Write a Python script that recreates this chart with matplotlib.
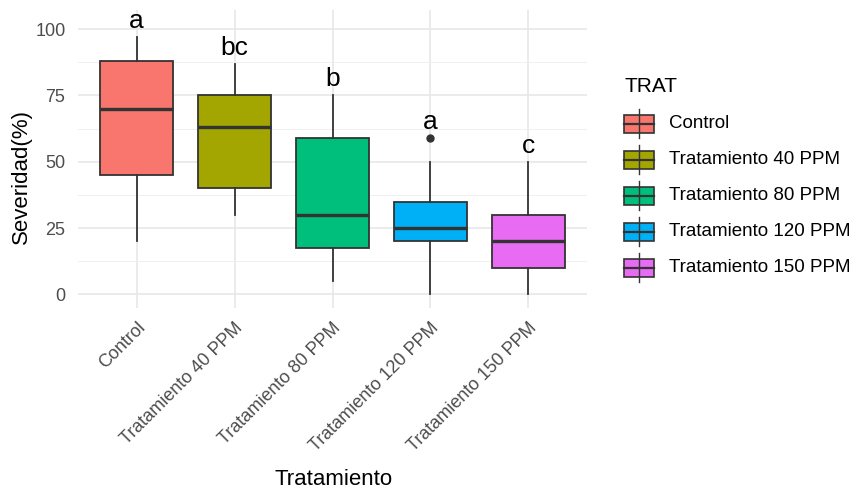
import matplotlib.pyplot as plt
from matplotlib.patches import Rectangle

plt.rcParams['font.family'] = ['Liberation Sans', 'DejaVu Sans']

# data (Severidad %)
groups = ['Control', 'Tratamiento 40 PPM', 'Tratamiento 80 PPM',
          'Tratamiento 120 PPM', 'Tratamiento 150 PPM']
whis_lo = [20, 30, 5, 0, 0]
q1 = [45, 40, 17.5, 20, 10]
median = [70, 63, 30, 25, 20]
q3 = [88, 75, 59, 35, 30]
whis_hi = [97, 87, 75, 50, 50]
outliers = [[], [], [], [59], []]
letters = ['a', 'bc', 'b', 'a', 'c']
colors = ['#F8766D', '#A3A500', '#00BF7D', '#00B0F6', '#E76BF3']

EDGE = '#333333'
W, H = 857, 493

fig = plt.figure(figsize=(W / 100, H / 100), dpi=100)
ax = fig.add_axes([78 / W, 1 - 308 / H, (587 - 78) / W, (308 - 10) / H])

stats = []
for i, g in enumerate(groups):
    stats.append(dict(label=g, med=median[i], q1=q1[i], q3=q3[i],
                      whislo=whis_lo[i], whishi=whis_hi[i], fliers=outliers[i]))

pos = list(range(1, len(groups) + 1))
bp = ax.bxp(stats, positions=pos, widths=0.75, patch_artist=True, showcaps=False,
            boxprops=dict(edgecolor=EDGE, linewidth=1.3),
            whiskerprops=dict(color=EDGE, linewidth=1.3),
            medianprops=dict(color=EDGE, linewidth=2.4),
            flierprops=dict(marker='o', markerfacecolor=EDGE, markeredgecolor=EDGE,
                            markersize=5))
for patch, c in zip(bp['boxes'], colors):
    patch.set_facecolor(c)

# significance letters above each group
for i, lab in enumerate(letters):
    top = max([whis_hi[i]] + outliers[i])
    ax.text(pos[i], top + 1.5, lab, ha='center', va='bottom', fontsize=19)

ax.set_xlim(0.4, 5.6)
ax.set_ylim(-5.1, 107.2)
ax.set_yticks([0, 25, 50, 75, 100])
ax.set_yticks([12.5, 37.5, 62.5, 87.5], minor=True)
ax.set_xticks(pos)
ax.set_xticklabels(groups, rotation=45, ha='right', va='top', rotation_mode='anchor')
ax.set_axisbelow(True)
ax.grid(which='major', color='#E6E6E6', linewidth=1.1)
ax.grid(which='minor', axis='y', color='#F0F0F0', linewidth=0.7)
for s in ax.spines.values():
    s.set_visible(False)
ax.tick_params(axis='both', which='both', length=0, labelsize=13, labelcolor='#4D4D4D')
ax.tick_params(axis='y', pad=9)
ax.tick_params(axis='x', pad=8)

ax.set_ylabel('Severidad(%)', fontsize=16)
ax.yaxis.set_label_coords(-0.09, 0.44)
ax.set_xlabel('Tratamiento', fontsize=16)
ax.xaxis.set_label_coords(0.503, -0.54)

# legend drawn with boxplot-style keys, in pixel coordinates
lg = fig.add_axes([0, 0, 1, 1], facecolor='none')
lg.set_xlim(0, W)
lg.set_ylim(H, 0)
lg.axis('off')
lg.text(625, 86, 'TRAT', fontsize=15, ha='left', va='center')
row_y = [124, 160, 196, 232, 268]
for y, c, g in zip(row_y, colors, groups):
    lg.plot([639, 639], [y - 15, y + 14], color=EDGE, lw=1.0)
    lg.add_patch(Rectangle((624, y - 9), 30, 18, facecolor=c, edgecolor=EDGE, lw=1.2))
    lg.plot([624, 654], [y, y], color=EDGE, lw=1.6)
    lg.text(669, y, g, fontsize=13.5, ha='left', va='center')

fig.savefig('out.png', dpi=100)
